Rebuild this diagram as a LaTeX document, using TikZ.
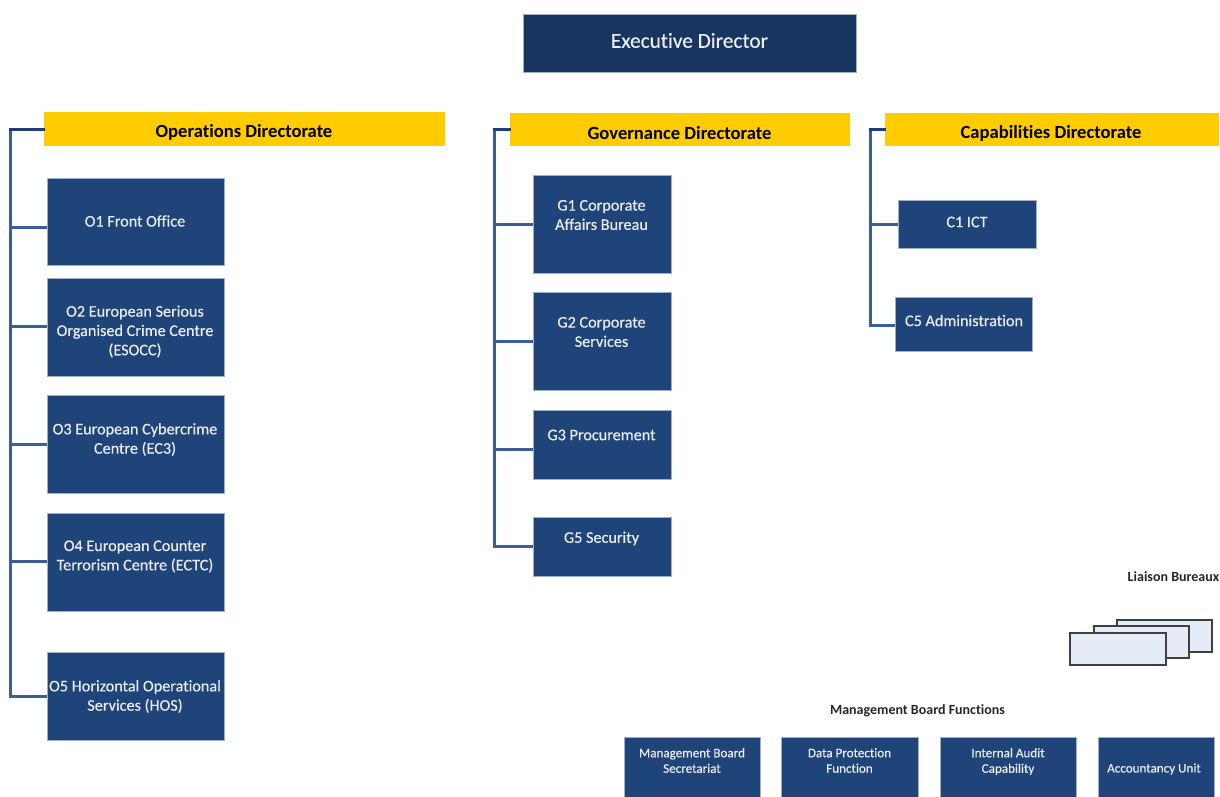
\documentclass[tikz,border=0pt]{standalone}
\usepackage{fontspec}
\setmainfont[Ligatures=NoCommon]{Carlito}
\newfontfamily\heavyfont[FakeBold=0.5,Ligatures=NoCommon]{Carlito}
\definecolor{boxblue}{HTML}{1F4479}
\definecolor{edblue}{HTML}{17355E}
\definecolor{edge}{HTML}{9DAFCA}
\definecolor{gold}{HTML}{FFCC00}
\definecolor{linkblue}{HTML}{3A5F96}
\definecolor{topblue}{HTML}{1D3E78}
\definecolor{paleblue}{HTML}{E6ECF7}
\tikzset{
  unitbox/.style={draw=edge,line width=0.9pt,fill=boxblue,inner sep=0pt},
  edbox/.style={draw=edge,line width=0.8pt,fill=edblue,inner sep=0pt},
  dirbar/.style={draw=none,fill=gold,inner sep=0pt},
  unittext/.style={text=white!90!boxblue,font=\heavyfont\fontsize{16.2}{19.3}\selectfont,align=center,inner sep=0pt},
  smalltext/.style={text=white!90!boxblue,font=\heavyfont\fontsize{13.1}{15.5}\selectfont,align=center,inner sep=0pt},
  dirtext/.style={text=black,font=\fontsize{18.6}{20}\selectfont\bfseries,inner sep=0pt},
  headtext/.style={text=black!85,font=\fontsize{14}{16}\selectfont\bfseries,inner sep=0pt},
  link/.style={draw=linkblue,line width=3pt},
  toplink/.style={draw=topblue,line width=3pt,line cap=rect},
  paper/.style={draw=black!75,line width=1.5pt,fill=paleblue,inner sep=0pt}
}
% name, x1, y1, x2, y2, style
\newcommand{\rbox}[6]{\node[#6,minimum width=#4pt-#2pt,minimum height=#5pt-#3pt] (#1) at ({(#2+#4)/2},{(#3+#5)/2}) {};}
\begin{document}
\begin{tikzpicture}[x=1pt,y=-1pt]
\useasboundingbox (0,0) rectangle (1220,796);
\clip (0,0) rectangle (1220,796);

\coordinate (ospine) at (10,129);
\coordinate (gspine) at (494,129);
\coordinate (cspine) at (870,129);

\rbox{ed}{523}{14}{856}{72}{edbox}
\node[unittext,font=\heavyfont\fontsize{21.3}{24}\selectfont] (edt) at (689.5,40.5) {Executive Director};

\rbox{ops}{44}{112}{445}{146}{dirbar}
\node[dirtext] (opst) at (244,132.5) {Operations Directorate};
\rbox{gov}{510}{113}{850}{146}{dirbar}
\node[dirtext] (govt) at (679.5,133) {Governance Directorate};
\rbox{cap}{885}{113}{1219}{146}{dirbar}
\node[dirtext] (capt) at (1051,133.5) {Capabilities Directorate};

\rbox{o1}{47}{178}{224}{265}{unitbox}
\node[unittext] (o1t) at (135,221) {O1 Front Office};
\rbox{o2}{47}{278}{224}{376}{unitbox}
\node[unittext] (o2t) at (135,331.5) {O2 European Serious\\Organised Crime Centre\\(ESOCC)};
\rbox{o3}{47}{395}{224}{493}{unitbox}
\node[unittext] (o3t) at (135,439.5) {O3 European Cybercrime\\Centre (EC3)};
\rbox{o4}{47}{513}{224}{611}{unitbox}
\node[unittext] (o4t) at (135,556.5) {O4 European Counter\\Terrorism Centre (ECTC)};
\rbox{o5}{47}{652}{224}{740}{unitbox}
\node[unittext] (o5t) at (135,696.5) {O5 Horizontal Operational\\Services (HOS)};

\rbox{g1}{533}{175}{671}{273}{unitbox}
\node[unittext] (g1t) at (601.5,215) {G1 Corporate\\Affairs Bureau};
\rbox{g2}{533}{292}{671}{390}{unitbox}
\node[unittext] (g2t) at (601.5,332) {G2 Corporate\\Services};
\rbox{g3}{533}{410}{671}{479}{unitbox}
\node[unittext] (g3t) at (601.5,435) {G3 Procurement};
\rbox{g5}{533}{517}{671}{576}{unitbox}
\node[unittext] (g5t) at (601.5,538.5) {G5 Security};

\rbox{c1}{898}{200}{1036}{248}{unitbox}
\node[unittext] (c1t) at (967,222) {C1 ICT};
\rbox{c5}{895}{297}{1032}{351}{unitbox}
\node[unittext] (c5t) at (964,320.5) {C5 Administration};

% connectors
\draw[link] (ospine) -- (10,696) -- (10,696 -| o5.west);
\draw[toplink] (ops.west |- ospine) -- (ospine);
\draw[link] (10,227) -- (10,227 -| o1.west);
\draw[link] (10,326) -- (10,326 -| o2.west);
\draw[link] (10,444) -- (10,444 -| o3.west);
\draw[link] (10,561) -- (10,561 -| o4.west);

\draw[link] (gspine) -- (494,546) -- (494,546 -| g5.west);
\draw[toplink] (gov.west |- gspine) -- (gspine);
\draw[link] (494,224) -- (494,224 -| g1.west);
\draw[link] (494,341) -- (494,341 -| g2.west);
\draw[link] (494,449) -- (494,449 -| g3.west);

\draw[link] (cspine) -- (870,325) -- (870,325 -| c5.west);
\draw[toplink] (cap.west |- cspine) -- (cspine);
\draw[link] (870,224) -- (870,224 -| c1.west);

% Liaison bureaux
\node[headtext] (liaison) at (1173.5,577) {Liaison Bureaux};
\rbox{lb3}{1117}{620}{1212}{652}{paper}
\rbox{lb2}{1094}{626}{1189}{658}{paper}
\rbox{lb1}{1070}{633}{1166}{665}{paper}

% Management board functions
\node[headtext] (mbf) at (917.5,711) {Management Board Functions};
\rbox{m1}{624}{737}{760}{800}{unitbox}
\node[smalltext] (m1t) at (692,760.5) {Management Board\\Secretariat};
\rbox{m2}{781}{737}{918}{800}{unitbox}
\node[smalltext] (m2t) at (849.5,760.5) {Data Protection\\Function};
\rbox{m3}{940}{737}{1076}{800}{unitbox}
\node[smalltext] (m3t) at (1008,761.5) {Internal Audit\\Capability};
\rbox{m4}{1098}{737}{1214}{800}{unitbox}
\node[smalltext] (m4t) at (1154,769) {Accountancy Unit};
\end{tikzpicture}
\end{document}
